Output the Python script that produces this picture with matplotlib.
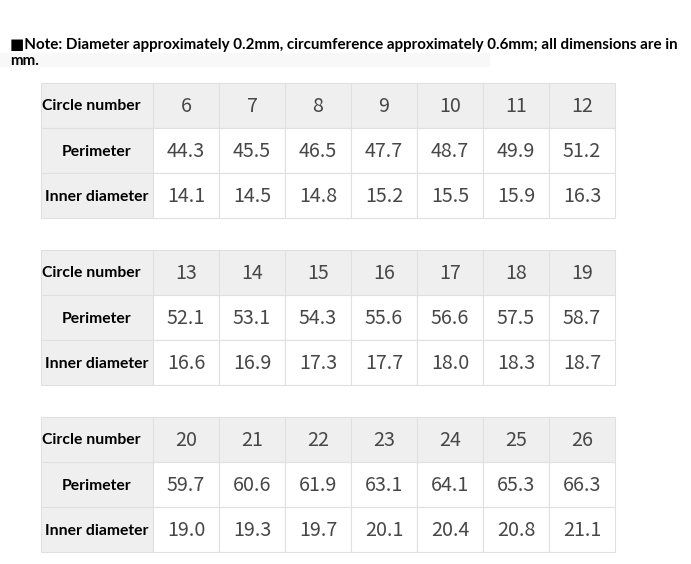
import matplotlib
matplotlib.use("Agg")
import matplotlib.pyplot as plt
from matplotlib.patches import Rectangle

# ── Ring size data (mm) ───────────────────────────────────────────────────────
circle_numbers = [6, 7, 8, 9, 10, 11, 12,
                  13, 14, 15, 16, 17, 18, 19,
                  20, 21, 22, 23, 24, 25, 26]
perimeter = [44.3, 45.5, 46.5, 47.7, 48.7, 49.9, 51.2,
             52.1, 53.1, 54.3, 55.6, 56.6, 57.5, 58.7,
             59.7, 60.6, 61.9, 63.1, 64.1, 65.3, 66.3]
inner_diameter = [14.1, 14.5, 14.8, 15.2, 15.5, 15.9, 16.3,
                  16.6, 16.9, 17.3, 17.7, 18.0, 18.3, 18.7,
                  19.0, 19.3, 19.7, 20.1, 20.4, 20.8, 21.1]
row_labels = ["Circle number", "Perimeter", "Inner diameter"]
note_line1 = "■Note: Diameter approximately 0.2mm, circumference approximately 0.6mm; all dimensions are in"
note_line2 = "mm."

# ── Layout (pixels) ──────────────────────────────────────────────────────────
W, H = 691, 564
X0, LABEL_W, COL_W, ROW_H = 41, 112, 66, 45
TABLE_TOPS = [83, 250, 417]
PER_TABLE = 7
GRAY, GRID, NUM_C = "#efefef", "#e0e0e0", "#474747"
LABEL_FONT = ["Lato", "DejaVu Sans"]
NUM_FONT = ["Noto Sans CJK SC", "DejaVu Sans"]

fig = plt.figure(figsize=(W / 100, H / 100), dpi=100)
ax = fig.add_axes([0, 0, 1, 1])
ax.set_xlim(0, W)
ax.set_ylim(H, 0)
ax.axis("off")

# note
ax.add_patch(Rectangle((0, 53), 490, 14, facecolor="#f8f8f8", edgecolor="none"))
ax.text(10, 49, note_line1, family=LABEL_FONT, fontweight="bold", fontsize=10.9,
        color="black", va="baseline", ha="left")
ax.text(10, 65, note_line2, family=LABEL_FONT, fontweight="bold", fontsize=10.9,
        color="black", va="baseline", ha="left")

for t, top in enumerate(TABLE_TOPS):
    sl = slice(t * PER_TABLE, (t + 1) * PER_TABLE)
    rows = [circle_numbers[sl],
            [f"{v:.1f}" for v in perimeter[sl]],
            [f"{v:.1f}" for v in inner_diameter[sl]]]
    for r, (label, vals) in enumerate(zip(row_labels, rows)):
        y = top + r * ROW_H
        ax.add_patch(Rectangle((X0, y), LABEL_W, ROW_H, facecolor=GRAY,
                               edgecolor=GRID, lw=0.8))
        if r == 0:
            ax.text(X0 + 1, y + ROW_H / 2 + 0.5, label, family=LABEL_FONT, fontweight="bold",
                    fontsize=11.3, ha="left", va="center", color="black")
        else:
            ax.text(X0 + LABEL_W / 2, y + ROW_H / 2 + 1.5, label, family=LABEL_FONT,
                    fontweight="bold", fontsize=11.3, ha="center", va="center", color="black")
        for c, v in enumerate(vals):
            x = X0 + LABEL_W + c * COL_W
            ax.add_patch(Rectangle((x, y), COL_W, ROW_H,
                                   facecolor=GRAY if r == 0 else "white",
                                   edgecolor=GRID, lw=0.8))
            ax.text(x + COL_W / 2, y + ROW_H / 2 + 1, str(v), family=NUM_FONT,
                    fontsize=14.2, ha="center", va="center", color=NUM_C)

fig.savefig("out.png", dpi=100)
